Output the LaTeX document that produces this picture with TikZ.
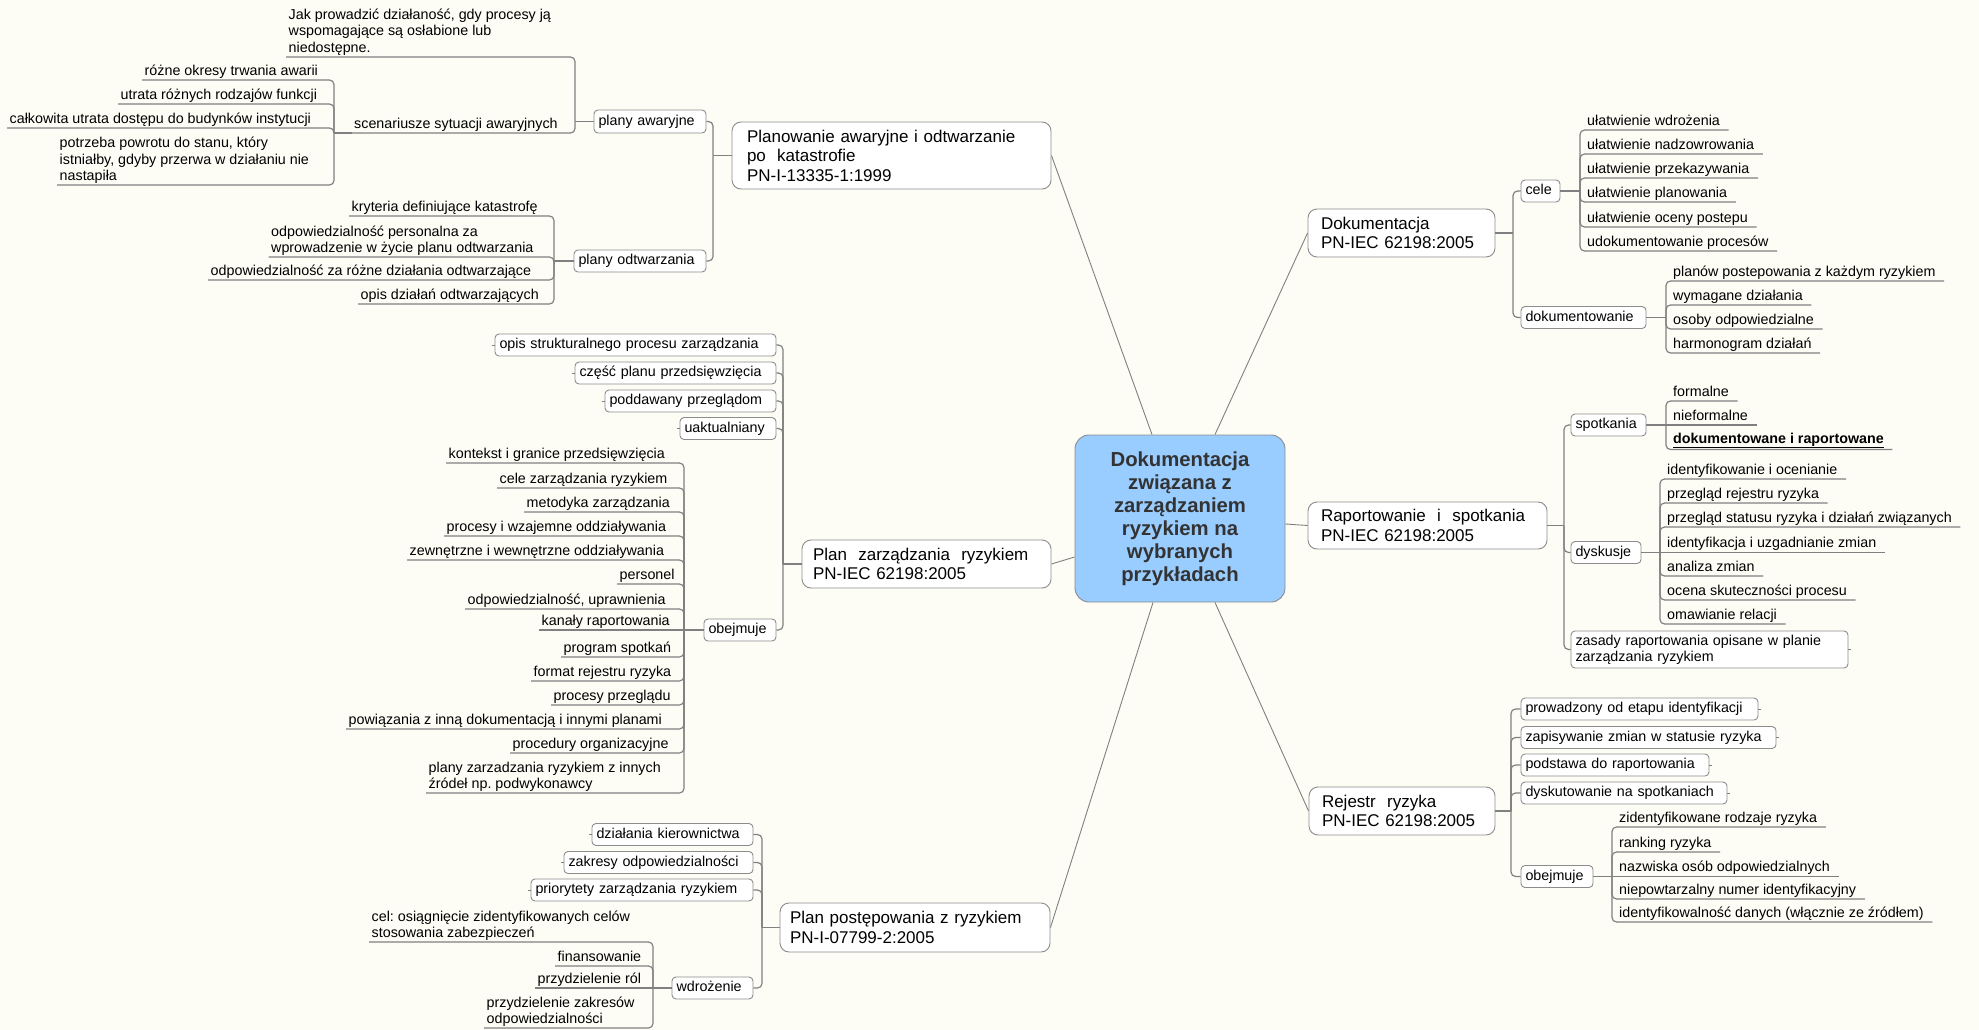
\documentclass[tikz,border=0pt]{standalone}
\usepackage{fontspec}
\setmainfont{Liberation Sans}
\definecolor{bgcream}{RGB}{253,253,246}
\definecolor{linkgray}{RGB}{128,128,128}
\definecolor{framegray}{RGB}{140,140,140}
\definecolor{hubblue}{RGB}{153,204,255}
\definecolor{hubtext}{RGB}{51,51,51}
\newcommand\leaffont{\fontsize{14.3pt}{16.3pt}\selectfont}
\newcommand\branchfont{\fontsize{17pt}{19.5pt}\selectfont}
\newcommand\hubfont{\fontsize{20.3pt}{23pt}\selectfont\bfseries}
\newcommand\ulstrut{\rule[-4.5pt]{0pt}{4.5pt}}
\frenchspacing
\begin{document}
\begin{tikzpicture}[x=1pt,y=-1pt,
  link/.style={draw=linkgray, line width=1.2pt, rounded corners=4.5pt},
  ray/.style={draw=linkgray, line width=0.9pt},
  stub/.style={draw=linkgray, line width=1pt},
  hub/.style={draw=framegray, fill=hubblue, rounded corners=14pt, line width=0.9pt,
    minimum width=210pt, minimum height=167pt, align=center, text=hubtext,
    font=\hubfont, inner sep=0pt},
  mbox/.style={draw=framegray, fill=white, rounded corners=9pt, line width=0.9pt,
    font=\branchfont, align=left, inner ysep=0pt},
  sbox/.style={draw=framegray, fill=white, rounded corners=4pt, line width=0.9pt,
    font=\leaffont, align=left, inner xsep=4.5pt, inner ysep=0pt,
    minimum height=22pt, text height=10.2pt, text depth=3pt},
  sboxm/.style={draw=framegray, fill=white, rounded corners=4pt, line width=0.9pt,
    font=\leaffont, align=left, inner xsep=4.5pt, inner ysep=0pt},
  leaf/.style={font=\leaffont, inner xsep=2.5pt, inner ysep=0pt, text depth=4.5pt,
    anchor=south west},
  leafml/.style={font=\leaffont, inner xsep=2.5pt, inner ysep=0pt, align=left,
    anchor=south west},
  rleaf/.style={leaf, execute at end node={\hspace{6pt}}}
]
\useasboundingbox (0,0) rectangle (1979,1030);
\fill[bgcream] (0,0) rectangle (1979,1030);

% ---------- central topic ----------
\node[hub] (hub) at (1180,518.5)
  {Dokumentacja\\związana z\\zarządzaniem\\ryzykiem na\\wybranych\\przykładach};

% ---------- main branches ----------
\node[mbox, inner xsep=15pt, minimum width=319pt, minimum height=67pt, text width=289pt]
  (plan) at (891.5,155.5) {Planowanie awaryjne i odtwarzanie\\po\ \ katastrofie\\PN-I-13335-1:1999};
\node[mbox, inner xsep=11pt, minimum width=249pt, minimum height=48pt, text width=227pt]
  (pz) at (926.5,564) {Plan\ \ zarządzania\ \ ryzykiem\\PN-IEC 62198:2005};
\node[mbox, inner xsep=10pt, minimum width=270pt, minimum height=49pt, text width=250pt]
  (pp) at (915,927.5) {Plan postępowania z ryzykiem\\PN-I-07799-2:2005};
\node[mbox, inner xsep=13pt, minimum width=187pt, minimum height=48pt, text width=161pt]
  (dok) at (1401.5,233) {Dokumentacja\\PN-IEC 62198:2005};
\node[mbox, inner xsep=13pt, minimum width=239pt, minimum height=47pt, text width=213pt]
  (rap) at (1427.5,525.5) {Raportowanie\ \ i\ \ spotkania\\PN-IEC 62198:2005};
\node[mbox, inner xsep=13pt, minimum width=186pt, minimum height=48pt, text width=160pt]
  (rej) at (1402,811) {Rejestr\ \ ryzyka\\PN-IEC 62198:2005};

\draw[ray] (plan.east) -- ([xshift=-28pt]hub.north);
\draw[ray] (dok.west) -- ([xshift=35pt]hub.north);
\draw[ray] ([yshift=-5.5pt]hub.east) -- (rap.west);
\draw[ray] (pz.east) -- ([yshift=-38.5pt]hub.west);
\draw[ray] (pp.east) -- ([xshift=-27pt]hub.south);
\draw[ray] (rej.west) -- ([xshift=35pt]hub.south);

% ---------- Planowanie awaryjne ----------
\coordinate (planS) at (713,155.5);
\node[sbox, minimum width=112pt, minimum height=23pt, text width=103pt] (pa) at (650,121.5) {plany awaryjne};
\node[sbox, minimum width=132pt, text width=123pt] (po) at (640,261) {plany odtwarzania};
\draw[link] (plan.west) -- (planS);
\draw[link] (planS) |- (pa.east);
\draw[link] (planS) |- (po.east);

\coordinate (paS) at (575,121.5);
\draw[link] (pa.west) -- (paS);
\node[leafml] (jak) at (286,57) {Jak prowadzić działaność, gdy procesy ją\\wspomagające są osłabione lub\\niedostępne.\ulstrut};
\node[leaf] (scen) at (351.5,133) {scenariusze sytuacji awaryjnych};
\draw[link] (paS) |- (jak.south west);
\draw[link] (paS) |- (scen.south west);

\coordinate (scS) at (334,133);
\draw[link] (scen.south west) -- (scS);
\node[leaf] (s1) at (142,80) {różne okresy trwania awarii};
\node[leaf] (s2) at (118,104) {utrata różnych rodzajów funkcji};
\node[leaf] (s3) at (7,128) {całkowita utrata dostępu do budynków instytucji};
\node[leafml] (s4) at (57,185) {potrzeba powrotu do stanu, który\\istniałby, gdyby przerwa w działaniu nie\\nastapiła\ulstrut};
\foreach \n in {s1,s2,s3,s4} \draw[link] (scS) |- (\n.south west);

\coordinate (poS) at (554,261);
\draw[link] (po.west) -- (poS);
\node[leaf] (o1) at (349,216) {kryteria definiujące katastrofę};
\node[leafml] (o2) at (268.5,257) {odpowiedzialność personalna za\\wprowadzenie w życie planu odtwarzania\ulstrut};
\node[leaf] (o3) at (208,280) {odpowiedzialność za różne działania odtwarzające};
\node[leaf] (o4) at (358,304) {opis działań odtwarzających};
\foreach \n in {o1,o2,o3,o4} \draw[link] (poS) |- (\n.south west);

% ---------- Plan zarządzania ryzykiem ----------
\coordinate (pzS) at (783,564);
\draw[link] (pz.west) -- (pzS);
\node[sbox, minimum width=281pt, text width=272pt] (z1) at (635.5,345) {opis strukturalnego procesu zarządzania};
\node[sbox, minimum width=201pt, text width=192pt] (z2) at (675.5,373) {część planu przedsięwzięcia};
\node[sbox, minimum width=171pt, text width=162pt] (z3) at (690.5,401) {poddawany przeglądom};
\node[sbox, minimum width=96pt, text width=87pt] (z4) at (728,428.5) {uaktualniany};
\node[sbox, minimum width=72pt, text width=63pt] (ob) at (740,630) {obejmuje};
\foreach \n in {z1,z2,z3,z4,ob} \draw[link] (pzS) |- (\n.east);
\foreach \n in {z1,z2,z3,z4} \draw[stub] (\n.west) -- ++(-3,0);

\coordinate (obS) at (684,630);
\draw[link] (ob.west) -- (obS);
\node[leaf] (k1) at (446,463) {kontekst i granice przedsięwzięcia};
\node[leaf] (k2) at (497,488) {cele zarządzania ryzykiem};
\node[leaf] (k3) at (524,512) {metodyka zarządzania};
\node[leaf] (k4) at (444,536) {procesy i wzajemne oddziaływania};
\node[leaf] (k5) at (407,560) {zewnętrzne i wewnętrzne oddziaływania};
\node[leaf] (k6) at (617,584) {personel};
\node[leaf] (k7) at (465,609) {odpowiedzialność, uprawnienia};
\node[leaf] (k8) at (539,630) {kanały raportowania};
\node[leaf] (k9) at (561,657) {program spotkań};
\node[leaf] (k10) at (531,681) {format rejestru ryzyka};
\node[leaf] (k11) at (551,705) {procesy przeglądu};
\node[leaf] (k12) at (346,729) {powiązania z inną dokumentacją i innymi planami};
\node[leaf] (k13) at (510,753) {procedury organizacyjne};
\node[leafml] (k14) at (426,793) {plany zarzadzania ryzykiem z innych\\źródeł np. podwykonawcy\ulstrut};
\foreach \n in {k1,k2,k3,k4,k5,k6,k7,k9,k10,k11,k12,k13,k14} \draw[link] (obS) |- (\n.south west);
\draw[link] (obS) -- (k8.south west);

% ---------- Plan postępowania z ryzykiem ----------
\coordinate (ppS) at (762,927.5);
\draw[link] (pp.west) -- (ppS);
\node[sbox, minimum width=161pt, text width=152pt] (q1) at (672.5,834.5) {działania kierownictwa};
\node[sbox, minimum width=189pt, text width=180pt] (q2) at (658.5,862.5) {zakresy odpowiedzialności};
\node[sbox, minimum width=222pt, text width=213pt] (q3) at (642,890) {priorytety zarządzania ryzykiem};
\node[sbox, minimum width=81pt, text width=72pt] (wd) at (712.5,988) {wdrożenie};
\foreach \n in {q1,q2,q3,wd} \draw[link] (ppS) |- (\n.east);
\foreach \n in {q1,q2,q3} \draw[stub] (\n.west) -- ++(-3,0);

\coordinate (wdS) at (653,988);
\draw[link] (wd.west) -- (wdS);
\node[leafml] (w1) at (369,942) {cel: osiągnięcie zidentyfikowanych celów\\stosowania zabezpieczeń\ulstrut};
\node[leaf] (w2) at (555,966) {finansowanie};
\node[leaf] (w3) at (535,988) {przydzielenie ról};
\node[leafml] (w4) at (484,1028) {przydzielenie zakresów\\odpowiedzialności\ulstrut};
\foreach \n in {w1,w2,w4} \draw[link] (wdS) |- (\n.south west);
\draw[link] (wdS) -- (w3.south west);

% ---------- Dokumentacja ----------
\coordinate (dokS) at (1513,233);
\draw[link] (dok.east) -- (dokS);
\node[sbox, minimum width=39pt, text width=30pt] (cele) at (1540.5,191) {cele};
\node[sbox, minimum width=125pt, text width=116pt] (dkm) at (1583.5,317.5) {dokumentowanie};
\draw[link] (dokS) |- (cele.west);
\draw[link] (dokS) |- (dkm.west);

\coordinate (celeS) at (1580,191);
\draw[link] (cele.east) -- (celeS);
\node[rleaf] (c1) at (1584.5,130) {ułatwienie wdrożenia};
\node[rleaf] (c2) at (1584.5,154) {ułatwienie nadzowrowania};
\node[rleaf] (c3) at (1584.5,178) {ułatwienie przekazywania};
\node[rleaf] (c4) at (1584.5,202) {ułatwienie planowania};
\node[rleaf] (c5) at (1584.5,227) {ułatwienie oceny postepu};
\node[rleaf] (c6) at (1584.5,251) {udokumentowanie procesów};
\foreach \n in {c1,c2,c3,c4,c5,c6} \draw[link] (celeS) |- (\n.south east);

\coordinate (dkmS) at (1666,317.5);
\draw[link] (dkm.east) -- (dkmS);
\node[rleaf] (d1) at (1670.5,281) {planów postepowania z każdym ryzykiem};
\node[rleaf] (d2) at (1670.5,305) {wymagane działania};
\node[rleaf] (d3) at (1670.5,329) {osoby odpowiedzialne};
\node[rleaf] (d4) at (1670.5,353) {harmonogram działań};
\foreach \n in {d1,d2,d3,d4} \draw[link] (dkmS) |- (\n.south east);

% ---------- Raportowanie i spotkania ----------
\coordinate (rapS) at (1564,525.5);
\draw[link] (rap.east) -- (rapS);
\node[sbox, minimum width=75pt, text width=66pt] (sp) at (1608.5,425) {spotkania};
\node[sbox, minimum width=70pt, text width=61pt] (dy) at (1606,552.5) {dyskusje};
\node[sboxm, minimum width=277pt, minimum height=37pt, text width=268pt] (zas) at (1709.5,649.5)
  {zasady raportowania opisane w planie\\zarządzania ryzykiem};
\foreach \n in {sp,dy,zas} \draw[link] (rapS) |- (\n.west);
\draw[stub] (zas.east) -- ++(3,0);

\coordinate (spS) at (1666,425);
\draw[link] (sp.east) -- (spS);
\node[rleaf] (p1) at (1670.5,401) {formalne};
\node[rleaf] (p2) at (1670.5,425) {nieformalne};
\node[rleaf, text depth=6pt] (p3) at (1670.5,449.5) {\underline{\textbf{dokumentowane i raportowane}}};
\draw[link] (spS) |- (p1.south east);
\draw[link] (spS) -- (p2.south east);
\draw[link] (spS) |- (p3.south east);

\coordinate (dyS) at (1660,552.5);
\draw[link] (dy.east) -- (dyS);
\node[rleaf] (y1) at (1664.5,479) {identyfikowanie i ocenianie};
\node[rleaf] (y2) at (1664.5,503) {przegląd rejestru ryzyka};
\node[rleaf] (y3) at (1664.5,527) {przegląd statusu ryzyka i działań związanych};
\node[rleaf] (y4) at (1664.5,552.5) {identyfikacja i uzgadnianie zmian};
\node[rleaf] (y5) at (1664.5,576) {analiza zmian};
\node[rleaf] (y6) at (1664.5,600) {ocena skuteczności procesu};
\node[rleaf] (y7) at (1664.5,624) {omawianie relacji};
\foreach \n in {y1,y2,y3,y5,y6,y7} \draw[link] (dyS) |- (\n.south east);
\draw[link] (dyS) -- (y4.south east);

% ---------- Rejestr ryzyka ----------
\coordinate (rejS) at (1511,811);
\draw[link] (rej.east) -- (rejS);
\node[sbox, minimum width=237pt, text width=228pt] (g1) at (1639.5,709) {prowadzony od etapu identyfikacji};
\node[sbox, minimum width=255pt, text width=246pt] (g2) at (1648.5,737.5) {zapisywanie zmian w statusie ryzyka};
\node[sbox, minimum width=188pt, text width=179pt] (g3) at (1615,765) {podstawa do raportowania};
\node[sbox, minimum width=206pt, text width=197pt] (g4) at (1624,793) {dyskutowanie na spotkaniach};
\node[sbox, minimum width=72pt, text width=63pt] (ob2) at (1557,876.5) {obejmuje};
\foreach \n in {g1,g2,g3,g4,ob2} \draw[link] (rejS) |- (\n.west);
\foreach \n in {g1,g2,g3,g4} \draw[stub] (\n.east) -- ++(3,0);

\coordinate (ob2S) at (1612,876.5);
\draw[link] (ob2.east) -- (ob2S);
\node[rleaf] (r1) at (1616.5,827) {zidentyfikowane rodzaje ryzyka};
\node[rleaf] (r2) at (1616.5,852) {ranking ryzyka};
\node[rleaf] (r3) at (1616.5,876.5) {nazwiska osób odpowiedzialnych};
\node[rleaf] (r4) at (1616.5,899) {niepowtarzalny numer identyfikacyjny};
\node[rleaf] (r5) at (1616.5,922) {identyfikowalność danych (włącznie ze źródłem)};
\foreach \n in {r1,r2,r4,r5} \draw[link] (ob2S) |- (\n.south east);
\draw[link] (ob2S) -- (r3.south east);
\end{tikzpicture}
\end{document}
